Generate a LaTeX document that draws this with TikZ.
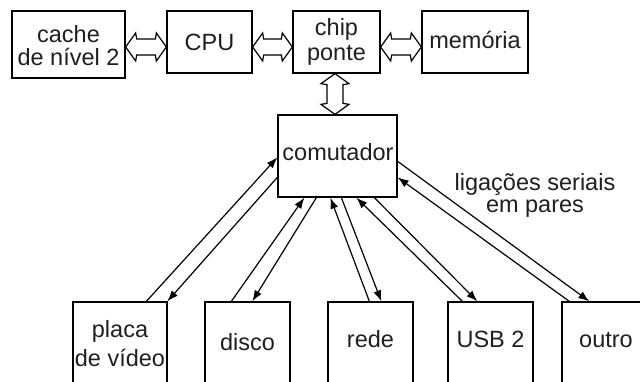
\documentclass[tikz,border=0pt]{standalone}
\usepackage{fontspec}
\setmainfont{Liberation Sans}
\usetikzlibrary{calc,arrows.meta}
\tikzset{
  boxnode/.style={draw, line width=1.3pt, inner sep=0pt, rectangle},
  txt/.style={anchor=base, inner sep=0pt, text=black!88, font=\fontsize{23.5}{21}\selectfont},
  link/.style={line width=1.2pt, -{Latex[length=11pt,width=8pt]}},
  hollow/.style={line width=1.2pt, line join=miter}
}
\newcommand\myHarrow[2]{%
  \draw[hollow] (#1) -- ($(#1)+(10,-14)$) -- ($(#1)+(11,-8)$) -- ($(#2)+(-11,-8)$) -- ($(#2)+(-10,-14)$) -- (#2)
    -- ($(#2)+(-10,14)$) -- ($(#2)+(-11,8)$) -- ($(#1)+(11,8)$) -- ($(#1)+(10,14)$) -- cycle;}
\newcommand\myVarrow[2]{%
  \draw[hollow] (#1) -- ($(#1)+(-14,10)$) -- ($(#1)+(-8,11)$) -- ($(#2)+(-8,-11)$) -- ($(#2)+(-14,-10)$) -- (#2)
    -- ($(#2)+(14,-10)$) -- ($(#2)+(8,-11)$) -- ($(#1)+(8,11)$) -- ($(#1)+(14,10)$) -- cycle;}
\newcommand\twolines[3]{\begin{tabular}[t]{@{}c@{}}#1\\[#2]#3\end{tabular}}
\begin{document}
\begin{tikzpicture}[x=1pt,y=-1pt]
\clip (0,0) rectangle (640,381);
\fill[white] (0,0) rectangle (640,381);
% top row
\node[boxnode, minimum width=113pt, minimum height=67pt] (cache) at (68.5,44.5) {};
\node[boxnode, minimum width=85pt, minimum height=62pt] (cpu) at (209.5,42) {};
\node[boxnode, minimum width=87pt, minimum height=62pt] (chip) at (336.5,42) {};
\node[boxnode, minimum width=106pt, minimum height=62pt] (mem) at (475,42) {};
\node[boxnode, minimum width=119pt, minimum height=82pt] (comut) at (337.5,156) {};
% bottom row (cut off at the lower edge)
\node[boxnode, minimum width=94pt, minimum height=98pt] (placa) at (120,351) {};
\node[boxnode, minimum width=85pt, minimum height=98pt] (disco) at (247.5,351) {};
\node[boxnode, minimum width=85pt, minimum height=98pt] (rede) at (370.5,351) {};
\node[boxnode, minimum width=85pt, minimum height=98pt] (usb) at (490.5,351) {};
\node[boxnode, minimum width=98pt, minimum height=98pt] (outro) at (611,351) {};
% texts
\node[txt] (tcache) at (68.5,42) {\twolines{cache}{0pt}{de nível 2}};
\node[txt] (tcpu) at (209.5,50) {CPU};
\node[txt] (tchip) at (336.5,35) {\twolines{chip}{4pt}{ponte}};
\node[txt] (tmem) at (475,48) {memória};
\node[txt] (tcomut) at (338,160) {comutador};
\node[txt] (tlig) at (535,190) {\twolines{ligações seriais}{1pt}{em pares}};
\node[txt] (tplaca) at (120,337) {\twolines{placa}{6pt}{de vídeo}};
\node[txt] (tdisco) at (247.5,350) {disco};
\node[txt] (trede) at (370.5,347) {rede};
\node[txt] (tusb) at (490.5,347) {USB 2};
\node[txt] (toutro) at (606,347) {outro};
% hollow double arrows
\coordinate (h1a) at (cache.east |- 0,47);
\coordinate (h1b) at (cpu.west |- 0,47);
\coordinate (h2a) at (cpu.east |- 0,47);
\coordinate (h2b) at (chip.west |- 0,47);
\coordinate (h3a) at (chip.east |- 0,47);
\coordinate (h3b) at (mem.west |- 0,47);
\coordinate (v1a) at (335,0 |- chip.south);
\coordinate (v1b) at (335,0 |- comut.north);
\myHarrow{h1a}{h1b}
\myHarrow{h2a}{h2b}
\myHarrow{h3a}{h3b}
\myVarrow{v1a}{v1b}
% serial links
\draw[link] ($(placa.north west)+(74,0)$) -- ($(comut.north west)+(0,43)$);
\draw[link] ($(comut.north west)+(0,63)$) -- ($(placa.north west)+(95,0)$);
\draw[link] ($(disco.north west)+(27,0)$) -- ($(comut.south west)+(27,0)$);
\draw[link] ($(comut.south west)+(39,0)$) -- ($(disco.north west)+(48,0)$);
\draw[link] ($(rede.north west)+(42,0)$) -- ($(comut.south west)+(53,0)$);
\draw[link] ($(comut.south west)+(64,0)$) -- ($(rede.north west)+(54,0)$);
\draw[link] ($(usb.north west)+(15,0)$) -- ($(comut.south west)+(79,0)$);
\draw[link] ($(comut.south west)+(97,0)$) -- ($(usb.north west)+(30,0)$);
\draw[link] ($(outro.north west)+(8,0)$) -- ($(comut.north east)+(0,63)$);
\draw[link] ($(comut.north east)+(0,47)$) -- ($(outro.north west)+(28,0)$);
\end{tikzpicture}
\end{document}
